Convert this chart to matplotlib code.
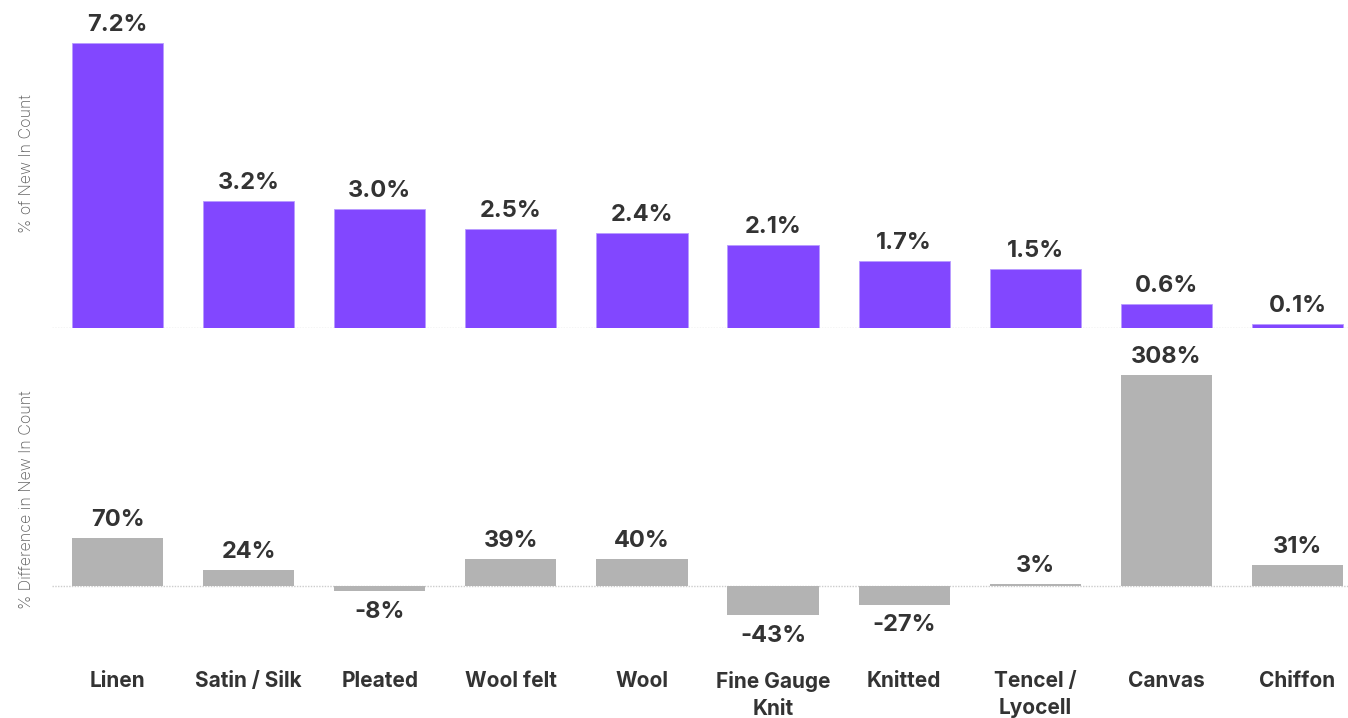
import matplotlib.pyplot as plt
import numpy as np

categories = ['Linen', 'Satin / Silk', 'Pleated', 'Wool felt', 'Wool',
              'Fine Gauge\nKnit', 'Knitted', 'Tencel /\nLyocell', 'Canvas', 'Chiffon']
share_pct = [7.2, 3.2, 3.0, 2.5, 2.4, 2.1, 1.7, 1.5, 0.6, 0.1]
diff_pct = [70, 24, -8, 39, 40, -43, -27, 3, 308, 31]

PURPLE = '#8247ff'
GREY = '#b3b3b3'
TEXT = '#333333'
FONT = ['Inter', 'DejaVu Sans']

W, H = 1348, 718
fig = plt.figure(figsize=(W / 100, H / 100), dpi=100)

# axes placed in pixel terms (left, top, right, bottom from top-left)
def px_axes(l, t, r, b):
    return fig.add_axes([l / W, 1 - b / H, (r - l) / W, (b - t) / H])

pitch = 131.1
left = 52
right = left + pitch * len(categories)
ax1 = px_axes(left, 0, right, 328)
ax2 = px_axes(left, 340, right, 660)

x = np.arange(len(categories))
bw = 0.695

ax1.bar(x, share_pct, width=bw, color=PURPLE, edgecolor='#b89cff', linewidth=0.6)
ax1.set_ylim(0, 328 / 39.6)
for xi, v in zip(x, share_pct):
    ax1.annotate(f'{v:.1f}%', (xi, v), xytext=(0, 5), textcoords='offset points',
                 ha='center', va='bottom', fontsize=17, fontweight='bold',
                 color=TEXT, family=FONT)

ax2.bar(x, diff_pct, width=bw, color=GREY)
ax2.set_ylim(-74 / 0.686, 246 / 0.686)
for xi, v in zip(x, diff_pct):
    off = 5 if v >= 0 else -7
    ax2.annotate(f'{v}%', (xi, v), xytext=(0, off), textcoords='offset points',
                 ha='center', va='bottom' if v >= 0 else 'top', fontsize=17,
                 fontweight='bold', color=TEXT, family=FONT)

for ax in (ax1, ax2):
    ax.set_xlim(-0.5, len(categories) - 0.5)
    for s in ax.spines.values():
        s.set_visible(False)
    ax.axhline(0, color='#cccccc', linewidth=1, linestyle=(0, (1, 1)), zorder=0)
    ax.set_yticks([])
    ax.patch.set_alpha(0)

ax1.set_xticks([])
ax2.set_xticks(x)
ax2.set_xticklabels(categories, fontsize=15, fontweight='bold', color=TEXT,
                    family=FONT, linespacing=1.45, va='top')
ax2.tick_params(axis='x', length=0, pad=8)

ax1.set_ylabel('% of New In Count', fontsize=11.5, color='#5e5e5e', family=FONT,
               fontweight='light', labelpad=13)
ax2.set_ylabel('% Difference in New In Count', fontsize=11.5, color='#5e5e5e',
               family=FONT, fontweight='light', labelpad=13)

plt.savefig('out.png', dpi=100)
